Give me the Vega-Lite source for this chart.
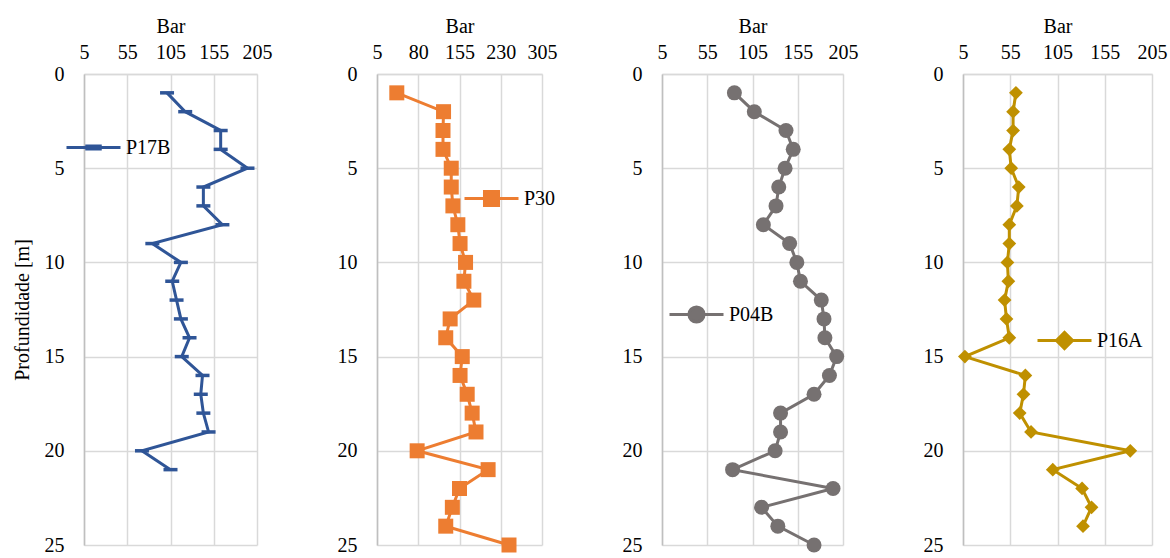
{
  "$schema": "https://vega.github.io/schema/vega-lite/v6.json",
  "background": "white",
  "padding": {"left": 12, "top": 16, "right": 5, "bottom": 2},
  "bounds": "flush",
  "spacing": 120,
  "datasets": {
    "p17b": [
      {"depth": 1, "bar": 101, "series": "P17B"}, {"depth": 2, "bar": 122, "series": "P17B"}, {"depth": 3, "bar": 163, "series": "P17B"},
      {"depth": 4, "bar": 163, "series": "P17B"}, {"depth": 5, "bar": 194, "series": "P17B"}, {"depth": 6, "bar": 143, "series": "P17B"},
      {"depth": 7, "bar": 143, "series": "P17B"}, {"depth": 8, "bar": 165, "series": "P17B"}, {"depth": 9, "bar": 84, "series": "P17B"},
      {"depth": 10, "bar": 117, "series": "P17B"}, {"depth": 11, "bar": 107, "series": "P17B"}, {"depth": 12, "bar": 112, "series": "P17B"},
      {"depth": 13, "bar": 117, "series": "P17B"}, {"depth": 14, "bar": 127, "series": "P17B"}, {"depth": 15, "bar": 118, "series": "P17B"},
      {"depth": 16, "bar": 142, "series": "P17B"}, {"depth": 17, "bar": 140, "series": "P17B"}, {"depth": 18, "bar": 143, "series": "P17B"},
      {"depth": 19, "bar": 149, "series": "P17B"}, {"depth": 20, "bar": 72, "series": "P17B"}, {"depth": 21, "bar": 105, "series": "P17B"}
    ],
    "p30": [
      {"depth": 1, "bar": 41, "series": "P30"}, {"depth": 2, "bar": 126, "series": "P30"}, {"depth": 3, "bar": 125, "series": "P30"},
      {"depth": 4, "bar": 125, "series": "P30"}, {"depth": 5, "bar": 140, "series": "P30"}, {"depth": 6, "bar": 140, "series": "P30"},
      {"depth": 7, "bar": 143, "series": "P30"}, {"depth": 8, "bar": 152, "series": "P30"}, {"depth": 9, "bar": 156, "series": "P30"},
      {"depth": 10, "bar": 166, "series": "P30"}, {"depth": 11, "bar": 163, "series": "P30"}, {"depth": 12, "bar": 181, "series": "P30"},
      {"depth": 13, "bar": 138, "series": "P30"}, {"depth": 14, "bar": 130, "series": "P30"}, {"depth": 15, "bar": 160, "series": "P30"},
      {"depth": 16, "bar": 156, "series": "P30"}, {"depth": 17, "bar": 169, "series": "P30"}, {"depth": 18, "bar": 178, "series": "P30"},
      {"depth": 19, "bar": 185, "series": "P30"}, {"depth": 20, "bar": 78, "series": "P30"}, {"depth": 21, "bar": 207, "series": "P30"},
      {"depth": 22, "bar": 155, "series": "P30"}, {"depth": 23, "bar": 142, "series": "P30"}, {"depth": 24, "bar": 130, "series": "P30"},
      {"depth": 25, "bar": 245, "series": "P30"}
    ],
    "p04b": [
      {"depth": 1, "bar": 85, "series": "P04B"}, {"depth": 2, "bar": 107, "series": "P04B"}, {"depth": 3, "bar": 142, "series": "P04B"},
      {"depth": 4, "bar": 150, "series": "P04B"}, {"depth": 5, "bar": 141, "series": "P04B"}, {"depth": 6, "bar": 134, "series": "P04B"},
      {"depth": 7, "bar": 131, "series": "P04B"}, {"depth": 8, "bar": 117, "series": "P04B"}, {"depth": 9, "bar": 146, "series": "P04B"},
      {"depth": 10, "bar": 154, "series": "P04B"}, {"depth": 11, "bar": 158, "series": "P04B"}, {"depth": 12, "bar": 181, "series": "P04B"},
      {"depth": 13, "bar": 184, "series": "P04B"}, {"depth": 14, "bar": 185, "series": "P04B"}, {"depth": 15, "bar": 198, "series": "P04B"},
      {"depth": 16, "bar": 190, "series": "P04B"}, {"depth": 17, "bar": 173, "series": "P04B"}, {"depth": 18, "bar": 136, "series": "P04B"},
      {"depth": 19, "bar": 136, "series": "P04B"}, {"depth": 20, "bar": 130, "series": "P04B"}, {"depth": 21, "bar": 83, "series": "P04B"},
      {"depth": 22, "bar": 194, "series": "P04B"}, {"depth": 23, "bar": 115, "series": "P04B"}, {"depth": 24, "bar": 133, "series": "P04B"},
      {"depth": 25, "bar": 173, "series": "P04B"}
    ],
    "p16a": [
      {"depth": 1, "bar": 61, "series": "P16A"}, {"depth": 2, "bar": 58, "series": "P16A"}, {"depth": 3, "bar": 58, "series": "P16A"},
      {"depth": 4, "bar": 54, "series": "P16A"}, {"depth": 5, "bar": 56, "series": "P16A"}, {"depth": 6, "bar": 64, "series": "P16A"},
      {"depth": 7, "bar": 62, "series": "P16A"}, {"depth": 8, "bar": 54, "series": "P16A"}, {"depth": 9, "bar": 54, "series": "P16A"},
      {"depth": 10, "bar": 52, "series": "P16A"}, {"depth": 11, "bar": 53, "series": "P16A"}, {"depth": 12, "bar": 49, "series": "P16A"},
      {"depth": 13, "bar": 51, "series": "P16A"}, {"depth": 14, "bar": 54, "series": "P16A"}, {"depth": 15, "bar": 7, "series": "P16A"},
      {"depth": 16, "bar": 71, "series": "P16A"}, {"depth": 17, "bar": 69, "series": "P16A"}, {"depth": 18, "bar": 65, "series": "P16A"},
      {"depth": 19, "bar": 77, "series": "P16A"}, {"depth": 20, "bar": 182, "series": "P16A"}, {"depth": 21, "bar": 100, "series": "P16A"},
      {"depth": 22, "bar": 131, "series": "P16A"}, {"depth": 23, "bar": 141, "series": "P16A"}, {"depth": 24, "bar": 132, "series": "P16A"}
    ]
  },
  "resolve": {"scale": {"x": "independent", "y": "independent", "color": "independent"}, "legend": {"color": "independent"}, "axis": {"x": "independent", "y": "independent"}},
  "hconcat": [
    {
      "width": 173, "height": 471,
      "data": {"name": "p17b"},
      "mark": {"type": "line", "strokeWidth": 3, "point": {"shape": "M-1,-0.25H1V0.25H-1Z", "size": 196, "filled": true, "opacity": 1}},
      "encoding": {
        "x": {"field": "bar", "type": "quantitative", "scale": {"domain": [5, 205], "nice": false, "zero": false}, "axis": {"orient": "top", "values": [5, 55, 105, 155, 205], "title": "Bar"}},
        "y": {"field": "depth", "type": "quantitative", "scale": {"domain": [0, 25], "reverse": true, "nice": false}, "axis": {"values": [0, 5, 10, 15, 20, 25], "title": "Profundidade [m]"}},
        "order": {"field": "depth"},
        "color": {"field": "series", "type": "nominal", "scale": {"range": ["#2F5597"]}, "legend": {"orient": "none", "legendX": -19, "legendY": 45, "title": null, "symbolType": "M-1,0H1M-0.25,-0.06H0.25V0.06H-0.25Z", "symbolSize": 2916, "symbolStrokeWidth": 3, "symbolFillColor": "#2F5597", "symbolStrokeColor": "#2F5597", "labelOffset": 4}}
      }
    },
    {
      "width": 165, "height": 471,
      "data": {"name": "p30"},
      "mark": {"type": "line", "strokeWidth": 3, "point": {"shape": "square", "size": 225, "filled": true, "opacity": 1}},
      "encoding": {
        "x": {"field": "bar", "type": "quantitative", "scale": {"domain": [5, 305], "nice": false, "zero": false}, "axis": {"orient": "top", "values": [5, 80, 155, 230, 305], "title": "Bar"}},
        "y": {"field": "depth", "type": "quantitative", "scale": {"domain": [0, 25], "reverse": true, "nice": false}, "axis": {"values": [0, 5, 10, 15, 20, 25], "title": null}},
        "order": {"field": "depth"},
        "color": {"field": "series", "type": "nominal", "scale": {"range": ["#ED7D31"]}, "legend": {"orient": "none", "legendX": 86, "legendY": 96, "title": null, "symbolType": "M-1,0H1M-0.26,-0.26H0.26V0.26H-0.26Z", "symbolSize": 2916, "symbolStrokeWidth": 3, "symbolFillColor": "#ED7D31", "symbolStrokeColor": "#ED7D31", "labelOffset": 4}}
      }
    },
    {
      "width": 181, "height": 471,
      "data": {"name": "p04b"},
      "mark": {"type": "line", "strokeWidth": 3, "point": {"shape": "circle", "size": 225, "filled": true, "opacity": 1}},
      "encoding": {
        "x": {"field": "bar", "type": "quantitative", "scale": {"domain": [5, 205], "nice": false, "zero": false}, "axis": {"orient": "top", "values": [5, 55, 105, 155, 205], "title": "Bar"}},
        "y": {"field": "depth", "type": "quantitative", "scale": {"domain": [0, 25], "reverse": true, "nice": false}, "axis": {"values": [0, 5, 10, 15, 20, 25], "title": null}},
        "order": {"field": "depth"},
        "color": {"field": "series", "type": "nominal", "scale": {"range": ["#767171"]}, "legend": {"orient": "none", "legendX": 6, "legendY": 212, "title": null, "symbolType": "M-1,0H1M-0.28,0A0.28,0.28,0,1,1,0.28,0A0.28,0.28,0,1,1,-0.28,0Z", "symbolSize": 2916, "symbolStrokeWidth": 3, "symbolFillColor": "#767171", "symbolStrokeColor": "#767171", "labelOffset": 4}}
      }
    },
    {
      "width": 189, "height": 471,
      "data": {"name": "p16a"},
      "mark": {"type": "line", "strokeWidth": 3, "point": {"shape": "diamond", "size": 190, "filled": true, "opacity": 1}},
      "encoding": {
        "x": {"field": "bar", "type": "quantitative", "scale": {"domain": [5, 205], "nice": false, "zero": false}, "axis": {"orient": "top", "values": [5, 55, 105, 155, 205], "title": "Bar"}},
        "y": {"field": "depth", "type": "quantitative", "scale": {"domain": [0, 25], "reverse": true, "nice": false}, "axis": {"values": [0, 5, 10, 15, 20, 25], "title": null}},
        "order": {"field": "depth"},
        "color": {"field": "series", "type": "nominal", "scale": {"range": ["#BF9000"]}, "legend": {"orient": "none", "legendX": 73, "legendY": 238, "title": null, "symbolType": "M-1,0H1M-0.3,0L0,-0.3L0.3,0L0,0.3Z", "symbolSize": 2916, "symbolStrokeWidth": 3, "symbolFillColor": "#BF9000", "symbolStrokeColor": "#BF9000", "labelOffset": 4}}
      }
    }
  ],
  "config": {
    "view": {"stroke": null},
    "font": "'Liberation Serif', 'Times New Roman', Times, serif",
    "axis": {
      "labelFont": "'Liberation Serif', 'Times New Roman', Times, serif", "labelFontSize": 20, "labelColor": "#000000",
      "titleFont": "'Liberation Serif', 'Times New Roman', Times, serif", "titleFontSize": 20, "titleFontWeight": "normal", "titleColor": "#000000",
      "ticks": false, "tickSize": 0, "domainColor": "#d9d9d9", "domainWidth": 1.5,
      "gridColor": "#d9d9d9", "gridWidth": 1.5, "grid": true,
      "labelOverlap": false, "labelBound": false, "labelFlush": false
    },
    "axisX": {"labelPadding": 12, "titlePadding": 6},
    "axisY": {"labelPadding": 20, "titlePadding": 12, "domainColor": "#bfbfbf"},
    "legend": {"labelFont": "'Liberation Serif', 'Times New Roman', Times, serif", "labelFontSize": 20, "labelColor": "#000000", "padding": 0}
  }
}
